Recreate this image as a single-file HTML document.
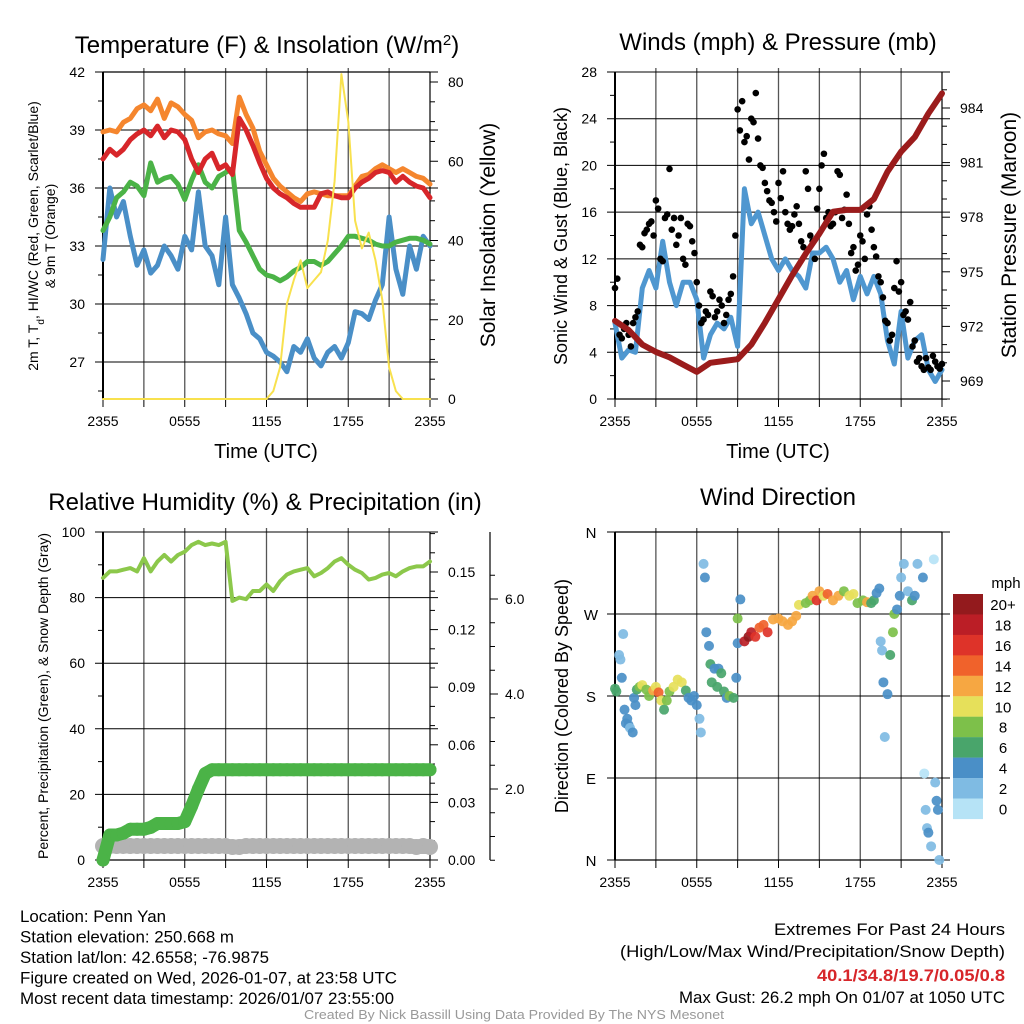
<!DOCTYPE html>
<html><head><meta charset="utf-8">
<style>
html,body{margin:0;padding:0;background:#fff;}
svg{display:block;font-family:"Liberation Sans",sans-serif;}
</style></head>
<body>
<svg id="c" width="1024" height="1024" viewBox="0 0 1024 1024" xmlns="http://www.w3.org/2000/svg"></svg>
<script>
// ---------- DATA ----------
const hoursHalf = Array.from({length:49},(_,i)=>i*0.5);
const xTickLabels = ["2355","","0555","","1155","","1755","","2355"];
const tempRed = [37.5,38.0,37.7,38.0,38.5,38.8,39.0,38.7,39.2,38.6,39.0,38.9,38.5,37.5,36.8,37.5,37.8,37.0,37.2,36.7,39.6,39.0,38.2,37.3,36.5,36.0,35.7,35.5,35.2,35.0,35.0,35.0,35.7,35.8,35.6,35.5,35.5,36.0,36.3,36.5,36.8,36.9,36.8,36.3,36.6,36.3,36.1,36.0,35.5];
const temp9m = [38.9,39.0,38.9,39.4,39.6,40.1,40.3,40.0,40.6,39.6,40.4,40.2,39.8,39.5,38.6,38.9,39.0,38.8,38.7,38.3,40.7,39.8,39.1,37.9,37.2,36.5,36.1,35.8,35.5,35.3,35.7,35.8,35.7,35.6,35.6,35.6,35.6,36.1,36.6,36.7,37.0,37.2,37.0,36.8,37.0,36.8,36.6,36.5,36.2];
const dewpoint = [33.8,34.5,35.5,35.8,36.3,36.1,35.6,37.3,36.3,36.5,36.6,36.2,35.4,36.4,37.2,36.3,36.0,36.6,36.8,37.0,33.8,33.2,32.5,31.8,31.5,31.4,31.2,31.4,31.7,31.9,32.2,32.2,32.0,32.2,32.6,33.0,33.5,33.5,33.4,33.3,33.1,33.0,33.0,33.2,33.3,33.4,33.4,33.3,33.1];
const windChill = [32.3,36.0,34.5,35.3,33.5,32.0,32.8,31.6,32.0,33.0,32.5,31.8,33.5,32.8,35.8,33.0,32.5,31.0,34.5,31.0,30.3,29.5,28.5,28.2,27.5,27.3,27.0,26.5,27.8,27.5,28.2,27.2,26.8,27.5,27.8,27.2,28.0,29.6,29.5,29.2,30.2,31.0,34.5,31.8,30.5,33.0,31.8,33.5,33.0];
const solar = [0,0,0,0,0,0,0,0,0,0,0,0,0,0,0,0,0,0,0,0,0,0,0,0,0,2,8,24,30,35,28,30,32,40,55,82,70,45,38,42,35,25,8,2,0,0,0,0,0];
const windSpeed = [6.5,3.5,4.2,4.0,9.5,11,9.5,13.5,10,8,10,10,8.5,3.5,5.5,6.5,6.0,7.0,4.5,18,15,16,14,12,11,12,11,10.5,9.5,12.5,12.5,13,12,10,11,8.5,10.5,9,10.5,9,5,3,7.5,3.5,5,5.5,2.5,1.5,2.5];
const gustHours = Array.from({length:73},(_,i)=>i/3);
const gust = [9.5,5.5,6.0,5.5,6.5,7.5,13,14.5,15.2,17,12,15.5,19.7,15.5,14,12,15,13.5,10,6.5,7.5,9.2,7,8.5,6.5,8.5,10.5,24.8,25.5,22.5,24,26.2,20,18.5,17,16,18.5,19.5,15,14.8,16.5,13.5,19.5,14,12,18,21,16,15,19.5,15.5,17.5,12.5,11,14,12,16.5,13,10.5,8.7,6.5,5.5,11.8,10,7.5,8.3,5,3.5,2.5,2.7,3.7,2.8,3.0];
const gustHours2 = Array.from({length:72},(_,i)=>i/3+1/6);
const gust2 = [10.3,5.2,6.5,4.5,7.0,13.2,14.2,15.0,14.0,16.3,11.8,15.8,14.5,13.2,15.5,11.5,14.8,12.5,8.0,6.8,7.2,8.8,7.5,8.0,7.2,9.0,14.0,23.0,22.0,20.5,23.7,22.3,19.8,17.8,16.8,15.2,17.2,16.0,14.5,15.8,15.0,13.0,18.0,13.5,16.3,20.0,15.5,14.8,16.0,19.2,16.2,15.0,13.0,11.5,13.5,15.8,14.5,12.2,10.0,6.7,5.0,9.5,9.2,7.2,6.8,4.5,3.2,2.8,3.5,2.5,3.2,2.6];
const pressHours = Array.from({length:25},(_,i)=>i);
const pressure = [972.3,971.8,971.0,970.6,970.3,969.9,969.5,970.0,970.1,970.2,971.0,972.2,973.5,974.8,976.0,977.1,978.3,978.4,978.4,979.0,980.5,981.6,982.4,983.7,984.8];
const rh = [86,88,88,88.5,89,88,92,88,91,93,91,93,94,96,97,96,96.5,96,97,79,80,79.5,82,82,84,82,85,87,88,88.5,89,86.5,87.5,89,91,92,90,88.5,87.5,85.5,86,87,87.5,86.5,88,89,89.5,89.5,91];
const precip = [0,0.013,0.013,0.014,0.016,0.016,0.016,0.017,0.019,0.019,0.019,0.019,0.02,0.028,0.037,0.045,0.047,0.047,0.047,0.047,0.047,0.047,0.047,0.047,0.047,0.047,0.047,0.047,0.047,0.047,0.047,0.047,0.047,0.047,0.047,0.047,0.047,0.047,0.047,0.047,0.047,0.047,0.047,0.047,0.047,0.047,0.047,0.047,0.047];
const snow = [0.8,0.8,0.8,0.8,0.8,0.8,0.8,0.8,0.8,0.8,0.8,0.8,0.8,0.8,0.8,0.8,0.8,0.8,0.8,0.78,0.78,0.8,0.8,0.8,0.8,0.8,0.8,0.8,0.8,0.8,0.8,0.8,0.8,0.8,0.8,0.8,0.8,0.8,0.8,0.8,0.8,0.8,0.8,0.8,0.8,0.8,0.78,0.8,0.78];
const dirHours = [0.0,0.1,0.3,0.4,0.5,0.6,0.7,0.8,0.9,1.0,1.1,1.3,1.4,1.5,1.6,1.8,2.0,2.3,2.5,2.8,3.0,3.2,3.4,3.6,3.8,4.0,4.3,4.6,4.9,5.2,5.4,5.6,5.8,6.0,6.2,6.3,6.5,6.6,6.7,6.9,7.0,7.1,7.3,7.5,7.6,7.8,8.0,8.2,8.4,8.7,8.9,9.0,9.0,9.2,9.5,9.8,10.0,10.3,10.6,10.9,11.2,11.6,12.0,12.3,12.7,13.0,13.3,13.5,14.0,14.3,14.5,14.8,15.0,15.3,15.6,16.0,16.4,16.8,17.2,17.5,17.8,18.2,18.5,18.8,19.0,19.2,19.4,19.5,19.6,19.7,19.8,20.0,20.2,20.4,20.5,20.7,20.9,21.0,21.2,21.5,21.8,22.0,22.2,22.6,22.7,22.8,22.9,23.0,23.2,23.4,23.5,23.6,23.7,23.8];
const dirDeg = [188,185,225,220,200,248,165,150,155,148,145,140,178,170,187,190,192,187,180,186,190,184,175,165,175,185,190,198,195,186,178,175,180,170,155,140,325,310,250,235,215,195,210,190,210,205,185,178,180,178,200,238,265,286,240,245,250,245,255,258,250,264,265,262,258,262,268,280,282,285,290,285,295,290,292,285,290,295,290,292,282,285,283,282,285,293,298,240,230,195,135,182,225,250,270,275,290,310,325,295,285,290,325,310,95,55,35,30,15,330,85,65,55,0,10];
const dirSpeed = [6,6,2,2,4,2,4,4,4,4,3,4,4,5,6,9,10,8,8,12,10,14,10,6,8,8,10,10,10,6,4,4,4,4,3,2,2,4,4,4,6,6,4,6,4,6,6,4,8,6,4,4,8,4,18,20,18,16,14,14,16,13,12,12,12,12,12,10,8,8,12,16,12,10,14,12,12,8,10,10,8,8,12,6,6,4,4,2,2,4,2,4,6,8,8,4,4,2,2,2,6,4,2,4,0,2,2,4,2,0,2,4,4,2,4];
const cbarLabels = ["20+","18","16","14","12","10","8","6","4","2","0"];
const cbarColors = ["#931a1d","#bb1e26","#de3329","#f0622b","#f6a742","#e6e05a","#7dc04a","#49a56b","#4a8fc7","#7fbbe3","#b6e3f6"];

// ---------- HELPERS ----------
const NS="http://www.w3.org/2000/svg";
const svg=document.getElementById('c');
function mk(tag,attrs,name,parent){
  const el=document.createElementNS(NS,tag);
  for(const k in attrs) el.setAttribute(k,attrs[k]);
  
  
  (parent||svg).appendChild(el);
  return el;
}
function txt(x,y,s,size,name,opts){
  opts=opts||{};
  const t=mk('text',{x:x,y:y,'font-size':size,'text-anchor':opts.anchor||'middle',fill:opts.fill||'#000'},name);
  if(opts.weight) t.setAttribute('font-weight',opts.weight);
  if(opts.len){t.setAttribute('textLength',opts.len);t.setAttribute('lengthAdjust','spacingAndGlyphs');}
  if(opts.rot) t.setAttribute('transform','rotate('+opts.rot+' '+x+' '+y+')');
  t.textContent=s;
  return t;
}
function lin(d0,d1,r0,r1){return v=>r0+(v-d0)/(d1-d0)*(r1-r0);}
function poly(xs,ys,fx,fy,stroke,w,name){
  const pts=xs.map((h,i)=>fx(h).toFixed(1)+','+fy(ys[i]).toFixed(1)).join(' ');
  return mk('polyline',{points:pts,fill:'none',stroke:stroke,'stroke-width':w,'stroke-linejoin':'round','stroke-linecap':'round'},name);
}
function frame(L,T,R,B,name){
  const g=mk('g',{},name);
  const fx=lin(0,24,L,R);
  for(let i=1;i<8;i++){const x=fx(i*3);
    mk('line',{x1:x,y1:T-4,x2:x,y2:B,stroke:'#555','stroke-width':1.3},'x-grid-line',g);}
  for(let i=0;i<=8;i++){const x=fx(i*3);
    mk('line',{x1:x,y1:B,x2:x,y2:B+8,stroke:'#000','stroke-width':1},'x-tick',g);
    if(xTickLabels[i]) txt(x,B+27,xTickLabels[i],14,'x-tick-label');}
  return fx;
}
function hgrid(L,R,y,name){mk('line',{x1:L-8,y1:y,x2:R+8,y2:y,stroke:'#000','stroke-width':1},name);}
function border(L,T,R,B){
  mk('line',{x1:L,y1:T,x2:L,y2:B,stroke:'#000','stroke-width':2},'left-axis-line');
  mk('line',{x1:R,y1:T,x2:R,y2:B,stroke:'#000','stroke-width':1.2},'right-axis-line');
  mk('line',{x1:L,y1:B,x2:R,y2:B,stroke:'#000','stroke-width':1.2},'x-axis-line');
}

// ---------- PANEL 1 ----------
(function(){
  const L=103,T=72,R=430,B=399;
  const fx=frame(L,T,R,B,'temperature-panel');
  const fy=lin(42,27,72,362);
  const fs=lin(0,80,399,82);
  [42,39,36,33,30,27].forEach(v=>{hgrid(L,R,fy(v),'y-grid-line');txt(L-18,fy(v)+5,String(v),14,'y-tick-label',{anchor:'end'});});
  for(let v=25.5;v<42;v+=3) mk('line',{x1:L-5,y1:fy(v),x2:L,y2:fy(v),stroke:'#000'},'y-minor-tick');
  for(let v=0;v<=80;v+=5){const y=fs(v);mk('line',{x1:R,y1:y,x2:R+(v%20==0?8:5),y2:y,stroke:'#000'},'y2-tick');
    if(v%20==0) txt(R+18,y+5,String(v),14,'y2-tick-label',{anchor:'start'});}
  border(L,T,R,B);
  mk('line',{x1:L,y1:T,x2:R,y2:T,stroke:'#000','stroke-width':1.2},'top-axis-line');
  poly(hoursHalf,windChill,fx,fy,'#4a8fc7',5,'wind-chill-line');
  poly(hoursHalf,dewpoint,fx,fy,'#4bb347',5,'dewpoint-line');
  poly(hoursHalf,temp9m,fx,fy,'#f5862e',5,'temp-9m-line');
  poly(hoursHalf,tempRed,fx,fy,'#d7262a',5,'temp-2m-line');
  poly(hoursHalf,solar,fx,fs,'#f8e14e',2,'solar-insolation-line');
  const t=txt(267,53,'',24,'chart-title-temperature');
  t.innerHTML='Temperature (F) &amp; Insolation (W/m<tspan baseline-shift="super" font-size="15">2</tspan>)';
  txt(266,458,'Time (UTC)',20,'x-axis-title');
  const a=txt(38,236,'',14,'y-axis-title-temperature',{rot:-90});
  a.innerHTML='2m T, T<tspan baseline-shift="sub" font-size="10">d</tspan>, HI/WC (Red, Green, Scarlet/Blue)';
  txt(55,236,'& 9m T (Orange)',14,'y-axis-title-temperature-line2',{rot:-90});
  txt(495,235,'Solar Insolation (Yellow)',21,'y2-axis-title-solar',{rot:-90});
})();

// ---------- PANEL 2 ----------
(function(){
  const L=615,T=72,R=942,B=399;
  const fx=frame(L,T,R,B,'winds-panel');
  const fy=lin(0,28,399,72);
  const fp=lin(969,984,381,108);
  for(let v=0;v<=28;v+=4){hgrid(L,R,fy(v),'y-grid-line');txt(L-18,fy(v)+5,String(v),14,'y-tick-label',{anchor:'end'});}
  for(let v=2;v<28;v+=4) mk('line',{x1:L-5,y1:fy(v),x2:L,y2:fy(v),stroke:'#000'},'y-minor-tick');
  for(let v=968;v<=985;v+=1){const y=fp(v);mk('line',{x1:R,y1:y,x2:R+(v%3==0?8:5),y2:y,stroke:'#000'},'y2-tick');
    if(v%3==0&&v>=969&&v<=984) txt(R+18,y+5,String(v),14,'y2-tick-label',{anchor:'start'});}
  border(L,T,R,B);
  poly(hoursHalf,windSpeed,fx,fy,'#4f97d0',5,'sonic-wind-line');
  gustHours.forEach((h,i)=>{
    mk('circle',{cx:fx(h),cy:fy(gust[i]),r:3.3,fill:'#000'},'gust-point');
  });
  gustHours2.forEach((h,i)=>{
    mk('circle',{cx:fx(h),cy:fy(gust2[i]),r:3.3,fill:'#000'},'gust-point');
  });
  poly(pressHours,pressure,fx,fp,'#9b1c1c',6,'pressure-line');
  txt(778,50,'Winds (mph) & Pressure (mb)',24,'chart-title-winds');
  txt(778,458,'Time (UTC)',20,'x-axis-title');
  txt(567,236,'Sonic Wind & Gust (Blue, Black)',18,'y-axis-title-wind',{rot:-90});
  txt(1016,235,'Station Pressure (Maroon)',21,'y2-axis-title-pressure',{rot:-90});
})();

// ---------- PANEL 3 ----------
(function(){
  const L=103,T=532,R=430,B=860;
  const fx=frame(L,T,R,B,'humidity-panel');
  const fy=lin(0,100,860,532);
  const fpr=lin(0,0.15,860,572);
  const fsn=lin(0,6,884,599);
  for(let v=0;v<=100;v+=20){hgrid(L,R,fy(v),'y-grid-line');txt(L-18,fy(v)+5,String(v),14,'y-tick-label',{anchor:'end'});}
  for(let v=10;v<100;v+=20) mk('line',{x1:L-5,y1:fy(v),x2:L,y2:fy(v),stroke:'#000'},'y-minor-tick');
  for(let k=0;k<=17;k++){const v=k*0.01;const y=fpr(v);if(y<532)break;
    mk('line',{x1:R,y1:y,x2:R+(k%3==0?8:5),y2:y,stroke:'#000'},'precip-tick');
    if(k%3==0) txt(R+18,y+5,v.toFixed(2),14,'precip-tick-label',{anchor:'start'});}
  mk('line',{x1:490,y1:532,x2:490,y2:860,stroke:'#000','stroke-width':1.2},'snow-axis-line');
  for(let k=1;k<=13;k++){const v=k*0.5;const y=fsn(v);if(y<532)break;
    mk('line',{x1:490,y1:y,x2:490+(k%4==0?8:5),y2:y,stroke:'#000'},'snow-tick');
    if(k%4==0) txt(505,y+5,v.toFixed(1),14,'snow-tick-label',{anchor:'start'});}
  border(L,T,R,B);
  poly(hoursHalf,snow,fx,fsn,'#b3b3b3',15,'snow-depth-line');
  hoursHalf.forEach((h,i)=>{mk('circle',{cx:fx(h),cy:fsn(snow[i]),r:8,fill:'#b3b3b3'},'snow-depth-point');});
  poly(hoursHalf,precip,fx,fpr,'#4bb347',13,'precip-line');
  hoursHalf.forEach((h,i)=>{mk('circle',{cx:fx(h),cy:fpr(precip[i]),r:6.5,fill:'#4bb347'},'precip-point');});
  poly(hoursHalf,rh,fx,fy,'#8cc84b',4,'relative-humidity-line');
  txt(265,510,'Relative Humidity (%) & Precipitation (in)',24,'chart-title-humidity');
  txt(48,696,'Percent, Precipitation (Green), & Snow Depth (Gray)',14,'y-axis-title-humidity',{rot:-90});
})();

// ---------- PANEL 4 ----------
(function(){
  const L=615,T=532,R=942,B=860;
  const fx=frame(L,T,R,B,'wind-direction-panel');
  const fy=lin(0,360,860,532);
  const dl=['N','E','S','W','N'];
  for(let i=0;i<5;i++){const v=i*90;hgrid(L,R,fy(v),'y-grid-line');txt(L-24,fy(v)+6,dl[i],15,'y-tick-label',{anchor:'middle'});}
  border(L,T,R,B);
  mk('line',{x1:L,y1:T,x2:R,y2:T,stroke:'#000','stroke-width':1.2},'top-axis-line');
  dirHours.forEach((h,i)=>{
    const bin=Math.min(10,Math.floor(dirSpeed[i]/2));
    mk('circle',{cx:fx(h),cy:fy(dirDeg[i]),r:5,fill:cbarColors[10-bin],'fill-opacity':0.92},'wind-direction-point');
  });
  txt(778,505,'Wind Direction',24,'chart-title-wind-direction');
  txt(568,696,'Direction (Colored By Speed)',18,'y-axis-title-direction',{rot:-90});
  txt(1006,588,'mph',15,'colorbar-title');
  cbarLabels.forEach((lab,i)=>{
    const y=594+i*20.45;
    mk('rect',{x:953,y:y,width:30,height:20.6,fill:cbarColors[i]},'colorbar-box');
    txt(1003,y+16,lab,15,'colorbar-label');
  });
})();

// ---------- FOOTER ----------
const leftLines=["Location: Penn Yan","Station elevation: 250.668 m","Station lat/lon: 42.6558; -76.9875","Figure created on Wed, 2026-01-07, at 23:58 UTC","Most recent data timestamp: 2026/01/07 23:55:00"];
const leftWidths=[146,214,249,377,374];
leftLines.forEach((s,i)=>txt(20,922+i*20.5,s,17,'station-info-line',{anchor:'start',len:leftWidths[i]}));
txt(1005,935,'Extremes For Past 24 Hours',17,'extremes-title',{anchor:'end',len:231});
txt(1005,957,'(High/Low/Max Wind/Precipitation/Snow Depth)',17,'extremes-subtitle',{anchor:'end',len:385});
txt(1005,981,'40.1/34.8/19.7/0.05/0.8',17,'extremes-values',{anchor:'end',fill:'#d7262a',weight:'bold',len:188});
txt(1005,1003,'Max Gust: 26.2 mph On 01/07 at 1050 UTC',17,'max-gust-text',{anchor:'end',len:326});
txt(514,1019,'Created By Nick Bassill Using Data Provided By The NYS Mesonet',13,'credit-text',{fill:'#999',len:420});
</script>
</body></html>
